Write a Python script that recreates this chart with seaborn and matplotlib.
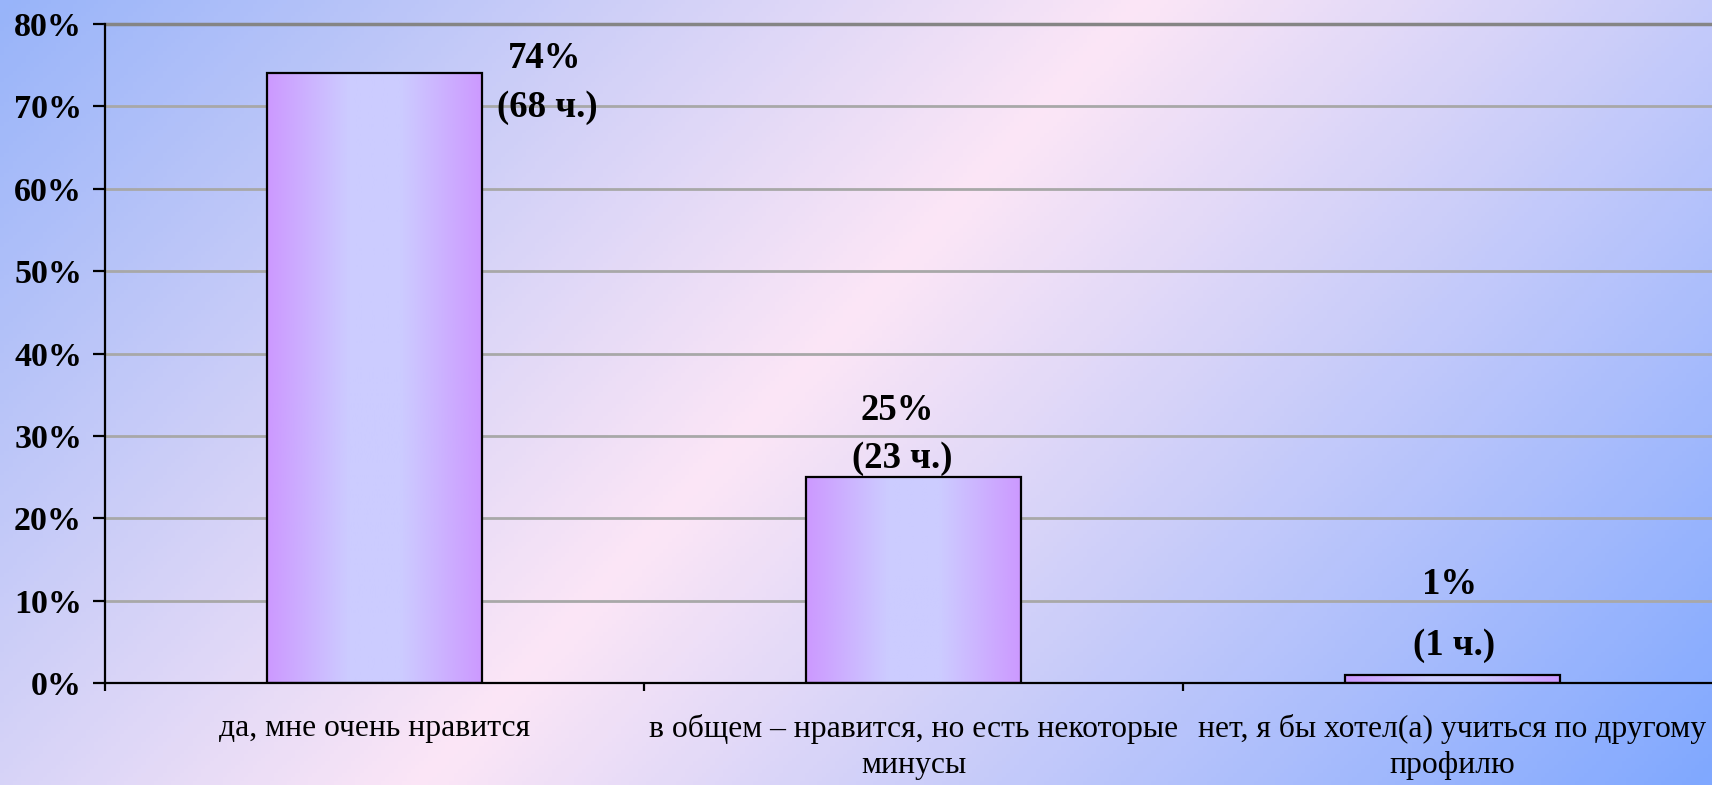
import numpy as np
import pandas as pd
import matplotlib
matplotlib.use('Agg')
import matplotlib.pyplot as plt
import seaborn as sns
from matplotlib.colors import LinearSegmentedColormap

# Survey answers (share of respondents and headcount)
categories = ['да, мне очень нравится',
              'в общем – нравится, но есть некоторые\nминусы',
              'нет, я бы хотел(а) учиться по другому\nпрофилю']
percent = [74, 25, 1]
people = [68, 23, 1]
y_ticks = [0, 10, 20, 30, 40, 50, 60, 70, 80]

df = pd.DataFrame({'answer': categories, 'pct': percent})

sns.set_theme(style='white')
plt.rcParams['font.family'] = ['Liberation Serif', 'DejaVu Serif']
plt.rcParams['text.color'] = 'black'
plt.rcParams['xtick.color'] = 'black'
plt.rcParams['ytick.color'] = 'black'

fig = plt.figure(figsize=(17.12, 7.85), dpi=100)

# Diagonal blue-pink-blue background
bg = fig.add_axes([0, 0, 1, 1], zorder=-10)
bg_cmap = LinearSegmentedColormap.from_list(
    'bg', [(0.0, '#98B4FA'), (0.47, '#FCE6F6'), (1.0, '#80A8FF')])
gx, gy = np.meshgrid(np.linspace(0, 1712, 400), np.linspace(0, 785, 200))
bg.imshow((gx + 0.92 * gy) / (1712 + 0.92 * 785), cmap=bg_cmap, aspect='auto',
          extent=[0, 1, 0, 1], vmin=0, vmax=1)
bg.axis('off')

ax = fig.add_axes([105 / 1712, 102 / 785, 1617 / 1712, 659 / 785])
ax.set_facecolor('none')

sns.barplot(data=df, x='answer', y='pct', width=0.4, color='#CC99FF',
            edgecolor='black', linewidth=1.6, ax=ax, zorder=3)

# Horizontal gradient fill inside each bar
bar_cmap = LinearSegmentedColormap.from_list(
    'bar', [(0.0, '#CC99FF'), (0.38, '#CCCCFF'), (0.62, '#CCCCFF'), (1.0, '#CC99FF')])
grad = np.linspace(0, 1, 200).reshape(1, -1)
for p in ax.patches:
    x0, w, h = p.get_x(), p.get_width(), p.get_height()
    im = ax.imshow(grad, cmap=bar_cmap, aspect='auto',
                   extent=[x0, x0 + w, 0, h], zorder=2.5)
    im.set_clip_path(p)
    p.set_facecolor('none')

ax.set_xlim(-0.5, 2.5)
ax.set_ylim(0, 80)

# Grid
ax.set_axisbelow(True)
for v in y_ticks[1:-1]:
    ax.axhline(v, color='#A8A8A8', lw=2, zorder=1)
ax.axhline(80, color='#858585', lw=2.5, zorder=1, clip_on=False)

# Spines
sns.despine(ax=ax, top=True, right=True)
for s in ['left', 'bottom']:
    ax.spines[s].set_color('black')
    ax.spines[s].set_linewidth(1.6)

ax.set_yticks(y_ticks)
ax.set_yticklabels([f'{v}%' for v in y_ticks], fontsize=24.5, fontweight='bold')
ax.tick_params(axis='y', left=True, direction='out', length=8.5, width=1.6,
               color='black', pad=8)

ax.set_xticks([0, 1, 2])
ax.set_xticklabels(categories, fontsize=22.8, linespacing=1.36)
ax.tick_params(axis='x', which='major', bottom=True, length=0, pad=22)
ax.set_xticks([-0.5, 0.5, 1.5, 2.5], minor=True)
ax.tick_params(axis='x', which='minor', bottom=True, direction='out',
               length=6, width=1.6, color='black')
ax.set_xlabel('')
ax.set_ylabel('')

# Value labels: "NN%" and "(NN ч.)"
offsets = [((170, 15), (173, -34)), ((-16, 67), (-11, 19)), ((-3, 90), (2, 29))]
for i, (pct, n) in enumerate(zip(percent, people)):
    (dx1, dy1), (dx2, dy2) = offsets[i]
    ax.annotate(f'{pct}%', xy=(i, pct), xytext=(dx1, dy1), textcoords='offset pixels',
                ha='center', va='center', fontsize=26.5, fontweight='bold', zorder=5)
    ax.annotate(f'({n} ч.)', xy=(i, pct), xytext=(dx2, dy2), textcoords='offset pixels',
                ha='center', va='center', fontsize=26.5, fontweight='bold', zorder=5)

fig.savefig('out.png', dpi=100)
